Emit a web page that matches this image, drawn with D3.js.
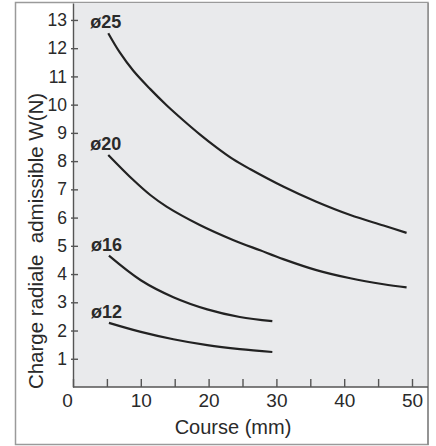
<!DOCTYPE html>
<html lang="fr">
<head>
<meta charset="utf-8">
<script src="https://cdn.jsdelivr.net/npm/d3@7/dist/d3.min.js"></script>
<style>
  body { margin: 0; background: #fff; }
  text { font-family: "Liberation Sans", Arial, sans-serif; fill: #2a2a2a; }
</style>
</head>
<body>
<script>
// values
var labels = ["ø25", "ø20", "ø16", "ø12"];
var course25 = [5.2, 6.9, 8.9, 11.4, 13.8, 16.3, 18.7, 21.2, 23.6, 26.1, 31, 35.9, 40.9, 45.8, 49.2];
var load25   = [12.53, 11.85, 11.2, 10.55, 9.98, 9.44, 8.95, 8.48, 8.07, 7.72, 7.1, 6.56, 6.09, 5.72, 5.46];
var course20 = [5.2, 8.9, 11.4, 13.8, 18.7, 23.6, 27.6, 31, 35.9, 40.9, 45.8, 49.2];
var load20   = [8.22, 7.33, 6.8, 6.39, 5.74, 5.21, 4.84, 4.53, 4.14, 3.85, 3.64, 3.53];
var course16 = [5.3, 10, 14.8, 19.8, 24.6, 29.4];
var load16   = [4.65, 3.78, 3.18, 2.75, 2.48, 2.33];
var course12 = [5.3, 10, 14.8, 19.8, 24.6, 29.4];
var load12   = [2.27, 1.95, 1.69, 1.48, 1.34, 1.24];
var xTicks = [0, 5, 10, 15, 20, 25, 30, 35, 40, 45, 50];
var yTicks = [1, 2, 3, 4, 5, 6, 7, 8, 9, 10, 11, 12, 13];

var courses = [course25, course20, course16, course12];
var loads = [load25, load20, load16, load12];

const w = 436, h = 446;
const plotL = 73, plotR = 428, plotT = 3, plotB = 387;

const xScale = d3.scaleLinear().domain([0, 52.36]).range([plotL, plotR]);
const yScale = d3.scaleLinear().domain([0, 13.6]).range([plotB, plotT]);

const svg = d3.select("body").append("svg")
  .attr("width", w)
  .attr("height", h);

// outer frame
svg.append("rect")
  .attr("x", 15.5).attr("y", 2.5)
  .attr("width", plotR - 15.5).attr("height", 442)
  .attr("fill", "#fff")
  .attr("stroke", "#9a9a9a")
  .attr("stroke-width", 1.5);

// plot background
svg.append("rect")
  .attr("x", plotL).attr("y", plotT)
  .attr("width", plotR - plotL).attr("height", plotB - plotT)
  .attr("fill", "#e9eaec");

// right edge of plot
svg.append("line")
  .attr("x1", plotR).attr("x2", plotR)
  .attr("y1", plotT).attr("y2", h - 1)
  .attr("stroke", "#8a8a8a").attr("stroke-width", 1.5);

const xAxis = d3.axisBottom(xScale)
  .tickValues(xTicks)
  .tickSizeInner(-8)
  .tickSizeOuter(0)
  .tickPadding(7)
  .tickFormat(d => d % 10 === 0 ? d : "");

const gx = svg.append("g")
  .attr("transform", "translate(0," + plotB + ")")
  .call(xAxis);
gx.selectAll("text").style("font-size", "19px");
gx.selectAll("text").filter(d => d === 0).attr("dx", "-6px");

const yAxis = d3.axisLeft(yScale)
  .tickValues(yTicks)
  .tickSizeInner(-5)
  .tickSizeOuter(0)
  .tickPadding(6);

const gy = svg.append("g")
  .attr("transform", "translate(" + plotL + ",0)")
  .call(yAxis);
gy.selectAll(".tick line").attr("x1", -2);
gy.selectAll("text").style("font-size", "17.5px");

svg.selectAll(".domain, .tick line")
  .attr("stroke", "#555")
  .attr("stroke-width", 1.4);
gx.select(".domain").attr("d", "M" + plotL + ",0H" + plotR);

// curves
const line = d3.line()
  .x(d => xScale(d[0]))
  .y(d => yScale(d[1]))
  .curve(d3.curveCatmullRom.alpha(0.5));

labels.forEach(function(lab, i) {
  var pts = courses[i].map((c, j) => [c, loads[i][j]]);
  svg.append("path")
    .datum(pts)
    .attr("d", line)
    .attr("fill", "none")
    .attr("stroke", "#222")
    .attr("stroke-width", 2.2);

  svg.append("text")
    .attr("x", xScale(pts[0][0]) - 18)
    .attr("y", yScale(pts[0][1]) - 5)
    .style("font-size", "18px")
    .style("font-weight", "bold")
    .text(lab);
});

// axis titles
svg.append("text")
  .attr("x", 233)
  .attr("y", 434)
  .attr("text-anchor", "middle")
  .style("font-size", "20px")
  .text("Course (mm)");

svg.append("text")
  .attr("transform", "translate(43,241) rotate(-90)")
  .attr("text-anchor", "middle")
  .style("font-size", "20.5px")
  .style("white-space", "pre")
  .text("Charge radiale  admissible W(N)");
</script>
</body>
</html>
